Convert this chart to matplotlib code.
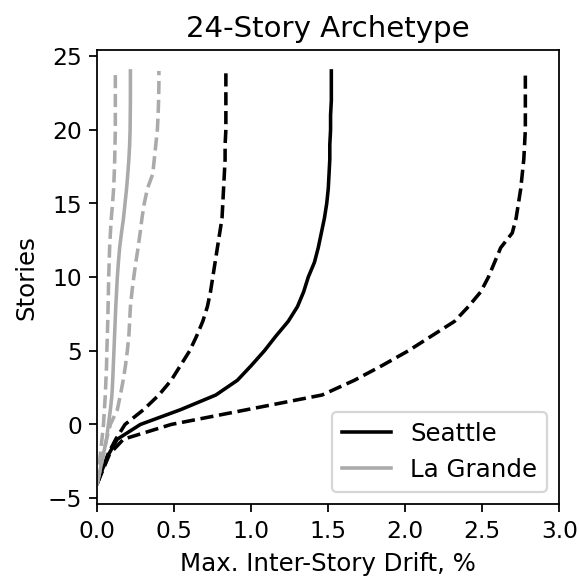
import matplotlib
matplotlib.use("Agg")
import matplotlib.pyplot as plt

stories = [-4, -3, -2, -1, 0, 1, 2, 3, 4, 5, 6, 7, 8, 9, 10, 11, 12,
           13, 14, 15, 16, 17, 18, 19, 20, 21, 22, 23, 24]

seattle_median = [0.0, 0.035, 0.075, 0.13, 0.28, 0.54, 0.77, 0.91, 1.00, 1.085,
                  1.16, 1.24, 1.30, 1.34, 1.37, 1.41, 1.435, 1.455, 1.475, 1.49,
                  1.50, 1.505, 1.51, 1.51, 1.515, 1.515, 1.52, 1.52, 1.52]
seattle_lower = [0.0, 0.035, 0.07, 0.12, 0.18, 0.30, 0.40, 0.48, 0.54, 0.60,
                 0.645, 0.685, 0.715, 0.735, 0.75, 0.765, 0.78, 0.795, 0.81, 0.815,
                 0.82, 0.825, 0.83, 0.83, 0.835, 0.835, 0.835, 0.835, 0.835]
seattle_upper = [0.0, 0.04, 0.08, 0.17, 0.48, 0.97, 1.46, 1.67, 1.85, 2.02,
                 2.17, 2.32, 2.41, 2.49, 2.54, 2.58, 2.62, 2.695, 2.72, 2.735,
                 2.75, 2.76, 2.77, 2.775, 2.78, 2.78, 2.78, 2.78, 2.78]

lagrande_median = [0.0, 0.02, 0.04, 0.06, 0.072, 0.085, 0.095, 0.10, 0.104, 0.108,
                   0.112, 0.116, 0.12, 0.125, 0.13, 0.137, 0.145, 0.157, 0.17, 0.18,
                   0.19, 0.198, 0.205, 0.21, 0.213, 0.214, 0.215, 0.215, 0.215]
lagrande_lower = [0.0, 0.01, 0.02, 0.03, 0.04, 0.046, 0.052, 0.056, 0.06, 0.062,
                  0.065, 0.068, 0.07, 0.072, 0.074, 0.077, 0.08, 0.085, 0.091, 0.099,
                  0.106, 0.11, 0.113, 0.115, 0.117, 0.117, 0.117, 0.117, 0.117]
lagrande_upper = [0.0, 0.02, 0.04, 0.06, 0.085, 0.13, 0.15, 0.168, 0.183, 0.195,
                  0.205, 0.21, 0.215, 0.225, 0.237, 0.25, 0.265, 0.278, 0.29, 0.305,
                  0.325, 0.36, 0.37, 0.38, 0.39, 0.395, 0.398, 0.40, 0.40]

gray = "#aaaaaa"

plt.rcParams["font.size"] = 11
plt.rcParams["xtick.labelsize"] = 10.5
plt.rcParams["ytick.labelsize"] = 10.5

fig = plt.figure(figsize=(3.62, 3.62), dpi=160)
ax = fig.add_axes([0.168, 0.1295, 0.9655 - 0.168, 0.9128 - 0.1295])

ax.plot(seattle_median, stories, color="black", linestyle="-", linewidth=1.6, label="Seattle")
ax.plot(seattle_lower, stories, color="black", linestyle="--", linewidth=1.6)
ax.plot(seattle_upper, stories, color="black", linestyle="--", linewidth=1.6)
ax.plot(lagrande_median, stories, color=gray, linestyle="-", linewidth=1.6, label="La Grande")
ax.plot(lagrande_lower, stories, color=gray, linestyle="--", linewidth=1.6)
ax.plot(lagrande_upper, stories, color=gray, linestyle="--", linewidth=1.6)

ax.set_xlim(0, 3.0)
ax.set_xlabel("Max. Inter-Story Drift, %")
ax.set_ylabel("Stories")
ax.set_title("24-Story Archetype", fontsize=13.2)
ax.legend(loc="lower right")

fig.savefig("out.png", dpi=160)
